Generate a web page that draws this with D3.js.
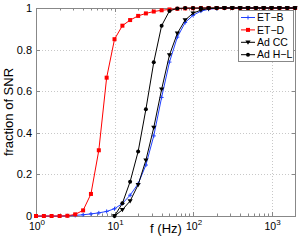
<!DOCTYPE html>
<html>
<head>
<meta charset="utf-8">
<script src="https://cdnjs.cloudflare.com/ajax/libs/d3/7.8.5/d3.min.js"></script>
<style>
body { margin: 0; background: #fff; }
svg { display: block; font-family: "Liberation Sans", Arial, sans-serif; }
</style>
</head>
<body>
<svg id="chart" width="299" height="246"></svg>
<script>
// frequencies (Hz), 10 steps per decade
var freqAll = [1, 1.26, 1.58, 2, 2.51, 3.16, 3.98, 5.01, 6.31, 7.94,
	10, 12.6, 15.8, 20, 25.1, 31.6, 39.8, 50.1, 63.1, 79.4,
	100, 126, 158, 200, 251, 316, 398, 501, 631, 794,
	1000, 1259, 1585, 1995];
var freqAd = freqAll.slice(10);

var etB = [0, 0, 0, 0, 0.001, 0.003, 0.006, 0.01, 0.015, 0.022,
	0.035, 0.06, 0.1, 0.155, 0.245, 0.385, 0.57, 0.74, 0.86, 0.93,
	0.965, 0.985, 0.994, 0.998, 1, 1, 1, 1, 1, 1,
	1, 1, 1, 1];
var etD = [0, 0, 0, 0, 0.001, 0.008, 0.027, 0.106, 0.316, 0.665,
	0.85, 0.915, 0.942, 0.962, 0.974, 0.983, 0.989, 0.993, 0.996, 0.998,
	0.999, 1, 1, 1, 1, 1, 1, 1, 1, 1,
	1, 1, 1, 1];
var adCC = [0, 0.03, 0.072, 0.15, 0.268, 0.425, 0.609, 0.774, 0.878, 0.942,
	0.975, 0.99, 0.997, 0.999, 1, 1, 1, 1, 1, 1,
	1, 1, 1, 1];
var adHL = [0, 0.061, 0.165, 0.31, 0.513, 0.739, 0.915, 0.986, 0.998, 1,
	1, 1, 1, 1, 1, 1, 1, 1, 1, 1,
	1, 1, 1, 1];

var yTicks = [0, 0.2, 0.4, 0.6, 0.8, 1];
var xTicks = [1, 10, 100, 1000];
var xTickExp = ['0', '1', '2', '3'];
var seriesNames = ['ET\u2212B', 'ET\u2212D', 'Ad CC', 'Ad H\u2212L'];

var series = [
	{name: seriesNames[0], x: freqAll, y: etB, color: '#2040ff', marker: 'plus'},
	{name: seriesNames[1], x: freqAll, y: etD, color: '#ff0000', marker: 'square'},
	{name: seriesNames[2], x: freqAd, y: adCC, color: '#000', marker: 'tri'},
	{name: seriesNames[3], x: freqAd, y: adHL, color: '#000', marker: 'dot'}
];

var pL = 36, pR = 296, pT = 8, pB = 216;
var svg = d3.select('#chart');
var x = d3.scaleLog().domain([1, 2048]).range([pL, pR]);
var y = d3.scaleLinear().domain([0, 1]).range([pB, pT]);

//grid
var grid = svg.append('g').attr('stroke', '#c8c8c8').attr('stroke-dasharray', '1,2').attr('stroke-width', 1);
xTicks.slice(1).forEach(function(t) {
	var px = Math.round(x(t)) + 0.5;
	grid.append('line').attr('x1', px).attr('x2', px).attr('y1', pT).attr('y2', pB);
});
yTicks.slice(1, -1).forEach(function(t) {
	var py = Math.round(y(t)) + 0.5;
	grid.append('line').attr('x1', pL).attr('x2', pR).attr('y1', py).attr('y2', py);
});

//axes box and ticks
var ax = svg.append('g').attr('stroke', '#888').attr('stroke-width', 1).attr('fill', 'none');
ax.append('rect').attr('x', pL + 0.5).attr('y', pT + 0.5).attr('width', pR - pL - 1).attr('height', pB - pT);
var minor = [];
[1, 10, 100, 1000].forEach(function(d) {
	for (var m = 2; m <= 9; m++) { if (d * m < 2048) minor.push(d * m); }
});
minor.forEach(function(t) {
	var px = Math.round(x(t)) + 0.5;
	ax.append('line').attr('x1', px).attr('x2', px).attr('y1', pB).attr('y2', pB - 2.5);
	ax.append('line').attr('x1', px).attr('x2', px).attr('y1', pT).attr('y2', pT + 2.5);
});
xTicks.forEach(function(t) {
	var px = Math.round(x(t)) + 0.5;
	ax.append('line').attr('x1', px).attr('x2', px).attr('y1', pB).attr('y2', pB - 4);
	ax.append('line').attr('x1', px).attr('x2', px).attr('y1', pT).attr('y2', pT + 4);
});
yTicks.forEach(function(t) {
	var py = Math.round(y(t)) + 0.5;
	ax.append('line').attr('x1', pL).attr('x2', pL + 4).attr('y1', py).attr('y2', py);
	ax.append('line').attr('x1', pR).attr('x2', pR - 4).attr('y1', py).attr('y2', py);
});

//tick labels
svg.append('g').selectAll('text').data(yTicks).enter().append('text')
	.attr('x', 32).attr('y', function(d) { return y(d); })
	.attr('dy', '0.36em').attr('text-anchor', 'end')
	.attr('font-size', 11).text(function(d) { return d; });

var xl = svg.append('g').selectAll('text').data(xTicks).enter().append('text')
	.attr('x', function(d) { return x(d) + 1; }).attr('y', 230)
	.attr('text-anchor', 'middle').attr('font-size', 10.5);
xl.append('tspan').text('10');
xl.append('tspan').attr('dy', -5).attr('font-size', 8).text(function(d, i) { return xTickExp[i]; });

//axis labels
svg.append('text').attr('x', (pL + pR) / 2).attr('y', 233)
	.attr('text-anchor', 'middle').attr('font-size', 13).text('f (Hz)');
svg.append('text').attr('transform', 'translate(13,' + ((pT + pB) / 2) + ') rotate(-90)')
	.attr('text-anchor', 'middle').attr('font-size', 13).text('fraction of SNR');

function drawMarker(g, type, cx, cy, color) {
	if (type === 'plus') {
		g.append('path').attr('d', 'M' + (cx - 2) + ',' + cy + 'h4M' + cx + ',' + (cy - 2) + 'v4')
			.attr('stroke', color).attr('stroke-width', 1).attr('fill', 'none');
	} else if (type === 'square') {
		g.append('rect').attr('x', cx - 2).attr('y', cy - 2).attr('width', 4).attr('height', 4).attr('fill', color);
	} else if (type === 'tri') {
		g.append('path').attr('d', 'M' + (cx - 2.6) + ',' + (cy - 1.8) + 'h5.2l-2.6,4.2z').attr('fill', color);
	} else {
		g.append('circle').attr('cx', cx).attr('cy', cy).attr('r', 2).attr('fill', color);
	}
}

//series
var line = d3.line().x(function(d) { return x(d[0]); }).y(function(d) { return y(d[1]); });
series.forEach(function(s) {
	var pts = s.x.map(function(f, i) { return [f, s.y[i]]; });
	var g = svg.append('g');
	g.append('path').datum(pts).attr('d', line).attr('fill', 'none')
		.attr('stroke', s.color).attr('stroke-width', 1);
	pts.forEach(function(p) { drawMarker(g, s.marker, x(p[0]), y(p[1]), s.color); });
});

//legend
var lg = svg.append('g');
lg.append('rect').attr('x', 238.5).attr('y', 10.5).attr('width', 55).attr('height', 51)
	.attr('fill', '#fff').attr('stroke', '#888');
series.forEach(function(s, i) {
	var ly = 17.5 + i * 12.4;
	lg.append('line').attr('x1', 241).attr('x2', 255).attr('y1', ly).attr('y2', ly)
		.attr('stroke', s.color).attr('stroke-width', 1);
	drawMarker(lg, s.marker, 248, ly, s.color);
	lg.append('text').attr('x', 257).attr('y', ly).attr('dy', '0.36em')
		.attr('font-size', 10.5).text(s.name);
});
</script>
</body>
</html>
